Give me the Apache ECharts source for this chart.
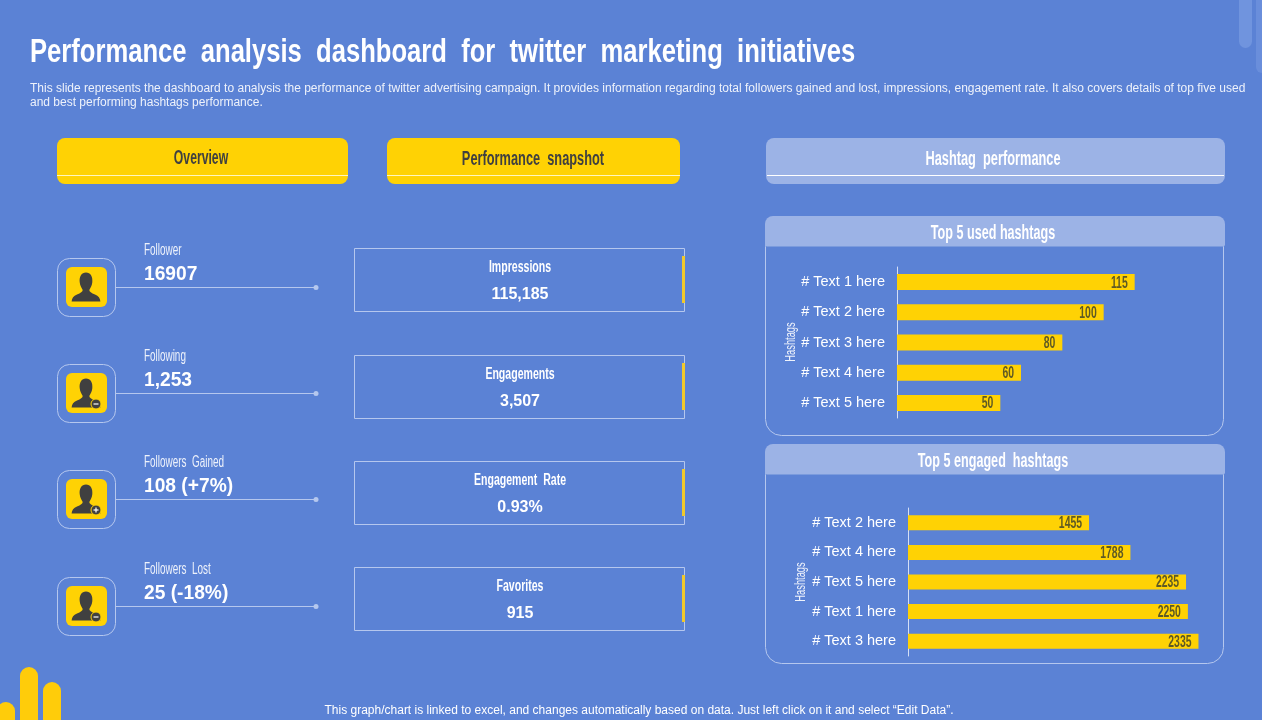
<!DOCTYPE html>
<html>
<head>
<meta charset="utf-8">
<title>Performance analysis dashboard</title>
<script src="https://cdn.jsdelivr.net/npm/echarts@6/dist/echarts.min.js"></script>
<style>
  html, body { margin: 0; padding: 0; background: #fff; }
  #main { width: 1262px; height: 720px; }
</style>
</head>
<body>
<div id="main"></div>
<script>
const titleText = 'Performance  analysis  dashboard  for  twitter  marketing  initiatives';
const subtitleLines = [
  'This slide represents the dashboard to analysis the performance of twitter advertising campaign. It provides information regarding total followers gained and lost, impressions, engagement rate. It also covers details of top five used',
  'and best performing hashtags performance.'
];
const footerText = 'This graph/chart is linked to excel, and changes automatically based on data. Just left click on it and select \u201cEdit Data\u201d.';

const overviewLabels = ['Follower', 'Following', 'Followers  Gained', 'Followers  Lost'];
const overviewValues = ['16907', '1,253', '108 (+7%)', '25 (-18%)'];
const overviewBadges = ['', 'minus', 'plus', 'minus'];

const snapshotLabels = ['Impressions', 'Engagements', 'Engagement  Rate', 'Favorites'];
const snapshotValues = ['115,185', '3,507', '0.93%', '915'];

const usedTags = ['# Text 1 here', '# Text 2 here', '# Text 3 here', '# Text 4 here', '# Text 5 here'];
const usedValues = [115, 100, 80, 60, 50];
const engagedTags = ['# Text 2 here', '# Text 4 here', '# Text 5 here', '# Text 1 here', '# Text 3 here'];
const engagedValues = [1455, 1788, 2235, 2250, 2335];

const BG = '#5b82d5';
const YELLOW = '#ffd204';
const PALE = '#9cb3e6';
const EDGE = '#b5c7ee';
const DARK = '#404040';
const OLIVE = '#5f5a24';
const ARIAL = 'Liberation Sans';

echarts.graphic.registerShape('person', echarts.graphic.extendShape({
  shape: { x: 0, y: 0, width: 100, height: 100 },
  buildPath(ctx, s) {
    const px = (v) => s.x + v * s.width / 100;
    const py = (v) => s.y + v * s.height / 100;
    const curve = (a, b, c, d, e, f) => ctx.bezierCurveTo(px(a), py(b), px(c), py(d), px(e), py(f));
    ctx.moveTo(px(50), py(2));
    curve(35, 2, 27, 16, 29, 34);
    curve(30, 46, 36, 54, 39, 60);
    curve(39, 66, 32, 70, 20, 75);
    curve(8, 80, 3, 87, 2, 98);
    ctx.lineTo(px(98), py(98));
    curve(97, 87, 92, 80, 80, 75);
    curve(68, 70, 61, 66, 61, 60);
    curve(64, 54, 70, 46, 71, 34);
    curve(73, 16, 65, 2, 50, 2);
    ctx.closePath();
  }
}));

function label(x, y, text, size, color, opts) {
  opts = opts || {};
  return {
    type: 'text', x: x, y: y, scaleX: opts.scaleX || 1, rotation: opts.rotation || 0, z: 5,
    style: {
      text: text, fill: color,
      font: (opts.weight || 'normal') + ' ' + size + 'px "' + ARIAL + '"',
      align: opts.align || 'left', verticalAlign: 'middle'
    }
  };
}
function box(x, y, w, h, r, fill, stroke) {
  return {
    type: 'rect', shape: { x: x, y: y, width: w, height: h, r: r },
    style: { fill: fill || 'transparent', stroke: stroke || null, lineWidth: stroke ? 1 : 0 }
  };
}
function hline(x1, x2, y, color) {
  return { type: 'line', shape: { x1: x1, y1: y, x2: x2, y2: y }, style: { stroke: color, lineWidth: 1 } };
}

function buildGraphic() {
  const g = [];
  // corner decorations
  g.push(box(1239, -20, 13, 68, [0, 0, 7, 7], '#7094de'));
  g.push(box(1256, -20, 12, 93, 6, '#6a8edb'));
  g.push(box(-3, 702, 18, 40, 9, '#ffcc0a'));
  g.push(box(20, 667, 18, 70, 9, '#ffcc0a'));
  g.push(box(43, 682, 18, 60, 9, '#ffcc0a'));

  g.push(label(30, 53, titleText, 34, '#fff', { weight: 'bold', scaleX: 0.753 }));
  subtitleLines.forEach((t, i) => g.push(label(30, 89 + i * 14, t, 12, '#eef2fb')));
  g.push(label(639, 711, footerText, 12, '#fff', { align: 'center' }));

  // section headers
  g.push(box(57, 138, 291, 46, 8, YELLOW));
  g.push(hline(57, 348, 175.5, '#fff6bf'));
  g.push(label(201, 158, 'Overview', 20, DARK, { align: 'center', scaleX: 0.61, weight: 'bold' }));
  g.push(box(387, 138, 293, 46, 8, YELLOW));
  g.push(hline(387, 680, 175.5, '#fff6bf'));
  g.push(label(533, 159, 'Performance  snapshot', 20, DARK, { align: 'center', scaleX: 0.64, weight: 'bold' }));
  g.push(box(766, 138, 459, 46, 8, PALE));
  g.push(hline(767, 1224, 175.5, '#fff'));
  g.push(label(993, 159, 'Hashtag  performance', 20, '#fff', { align: 'center', scaleX: 0.64, weight: 'bold' }));

  // overview rows
  const rowY = [258, 364, 470, 577];
  overviewLabels.forEach((t, i) => {
    const y = rowY[i];
    g.push(box(57.5, y + 0.5, 58, 58, 12, null, EDGE));
    g.push(box(66, y + 9, 41, 40, 6, YELLOW));
    g.push({
      type: 'person',
      shape: { x: 71, y: y + 14, width: 30, height: 30 },
      style: { fill: DARK }
    });
    if (overviewBadges[i]) {
      g.push({ type: 'circle', shape: { cx: 96, cy: y + 40, r: 5 }, style: { fill: DARK, stroke: YELLOW, lineWidth: 1 } });
      g.push({ type: 'line', shape: { x1: 93.5, y1: y + 40, x2: 98.5, y2: y + 40 }, style: { stroke: '#fff', lineWidth: 1.2 } });
      if (overviewBadges[i] === 'plus') {
        g.push({ type: 'line', shape: { x1: 96, y1: y + 37.5, x2: 96, y2: y + 42.5 }, style: { stroke: '#fff', lineWidth: 1.2 } });
      }
    }
    g.push(hline(116, 316, y + 29.5, EDGE));
    g.push({ type: 'circle', shape: { cx: 316, cy: y + 29.5, r: 2.5 }, style: { fill: EDGE } });
    g.push(label(144, y - 7, t, 16, '#eef2fb', { scaleX: 0.62 }));
    g.push(label(144, y + 16, overviewValues[i], 20, '#fff', { weight: 'bold', scaleX: 0.96 }));
  });

  // snapshot boxes
  const snapY = [248, 355, 461, 567];
  snapshotLabels.forEach((t, i) => {
    const y = snapY[i];
    g.push(box(354.5, y + 0.5, 330, 63, 0, null, EDGE));
    g.push(box(682, y + 8, 3, 47, 0, '#f0c92c'));
    g.push(label(520, y + 20, t, 16, '#fff', { align: 'center', scaleX: 0.66, weight: 'bold' }));
    g.push(label(520, y + 47, snapshotValues[i], 16, '#fff', { align: 'center', weight: 'bold' }));
  });

  // hashtag panels
  [[230, 206, 216, 233, 'Top 5 used hashtags'], [458, 206, 444, 461, 'Top 5 engaged  hashtags']].forEach((p) => {
    g.push(box(765.5, p[0] + 0.5, 458, p[1] - 1, 16, null, EDGE));
    g.push(box(765, p[2], 460, 30.5, [8, 8, 2, 2], PALE));
    g.push(label(993, p[3], p[4], 21, '#fff', { align: 'center', scaleX: 0.6, weight: 'bold' }));
  });

  // axis titles, squeezed like the rest of the display type
  g.push(label(791, 342, 'Hashtags', 15, '#eef2fb', { align: 'center', scaleX: 0.62, rotation: Math.PI / 2 }));
  g.push(label(801, 582, 'Hashtags', 15, '#eef2fb', { align: 'center', scaleX: 0.62, rotation: Math.PI / 2 }));
  return g;
}

function barGrid(left, top, width, height) {
  return { left: left, top: top, width: width, height: height, containLabel: false, outerBoundsMode: 'none' };
}
function valueAxis(idx, max) {
  return { type: 'value', gridIndex: idx, min: 0, max: max, show: false };
}
function tagAxis(idx, tags) {
  return {
    type: 'category', gridIndex: idx, data: tags, inverse: true,
    axisLine: { show: true, lineStyle: { color: '#d5dff5', width: 1 } },
    axisTick: { show: false },
    axisLabel: { color: '#fff', fontSize: 14.5, fontFamily: ARIAL, margin: 12, padding: [2, 0, 0, 0] }
  };
}
function barSeries(idx, values, width) {
  return {
    type: 'bar', xAxisIndex: idx, yAxisIndex: idx, data: values, barWidth: width,
    itemStyle: { color: YELLOW }, silent: true
  };
}
// value labels need a horizontal squeeze, which series labels cannot do
function valueLabels(idx, values) {
  return {
    type: 'custom', xAxisIndex: idx, yAxisIndex: idx, z: 3, silent: true, clip: false,
    data: values.map((v, i) => [v, i]),
    encode: { x: 0, y: 1 },
    renderItem(params, api) {
      const p = api.coord([api.value(0), api.value(1)]);
      return {
        type: 'text', x: p[0] - 7, y: p[1] + 1, scaleX: 0.65,
        style: {
          text: String(api.value(0)), fill: OLIVE,
          font: 'bold 16px "' + ARIAL + '"', align: 'right', verticalAlign: 'middle'
        }
      };
    }
  };
}

const chart = echarts.init(document.getElementById('main'), null, { renderer: 'canvas' });
chart.setOption({
  animation: false,
  backgroundColor: BG,
  textStyle: { fontFamily: ARIAL },
  graphic: buildGraphic(),
  grid: [barGrid(897, 267, 310, 151), barGrid(908, 508, 311, 148)],
  xAxis: [valueAxis(0, 150), valueAxis(1, 2500)],
  yAxis: [tagAxis(0, usedTags), tagAxis(1, engagedTags)],
  series: [
    barSeries(0, usedValues, 16), barSeries(1, engagedValues, 15),
    valueLabels(0, usedValues), valueLabels(1, engagedValues)
  ]
});
</script>
</body>
</html>
